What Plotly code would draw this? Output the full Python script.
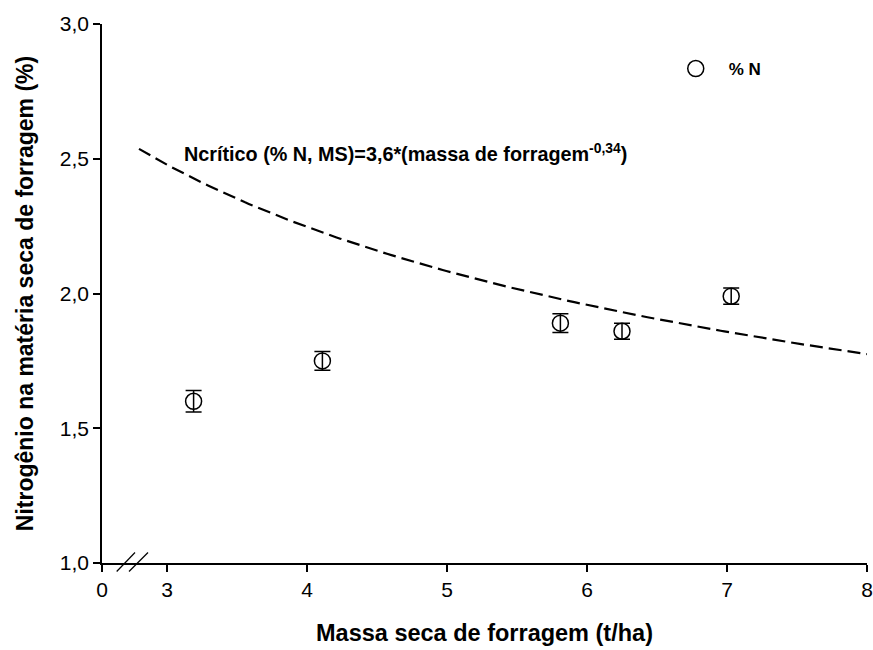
import numpy as np
import plotly.graph_objects as go

# Observed forage dry mass (t/ha) and N concentration (%) with standard errors
massa = [3.19, 4.11, 5.81, 6.25, 7.03]
n_pct = [1.60, 1.75, 1.89, 1.86, 1.99]
n_err = [0.04, 0.035, 0.035, 0.03, 0.03]

# Critical N dilution curve: N = 3.6 * MS^-0.34
coef_a = 3.6
coef_b = -0.34
curve_start, curve_end = 2.8, 8.0

# Broken x axis: the "0" tick sits at the left end of the visible range
x_left = 3 - 65 / 140
x_tickvals = [x_left, 3, 4, 5, 6, 7, 8]
x_ticktext = ["0", "3", "4", "5", "6", "7", "8"]
y_tickvals = [1.0, 1.5, 2.0, 2.5, 3.0]
y_ticktext = ["1,0", "1,5", "2,0", "2,5", "3,0"]

FONT = "Arial, Liberation Sans, sans-serif"

xs = np.linspace(curve_start, curve_end, 200)
ys = coef_a * xs ** coef_b

fig = go.Figure()
fig.add_trace(go.Scatter(
    x=xs, y=ys, mode="lines", showlegend=False, hoverinfo="skip",
    line=dict(color="black", width=2.2, dash="13px,6px"),
))
fig.add_trace(go.Scatter(
    x=massa, y=n_pct, mode="markers", name="<b>% N</b>",
    marker=dict(symbol="circle-open", size=16, color="black",
                line=dict(color="black", width=1.5)),
    error_y=dict(type="data", array=n_err, visible=True,
                 color="black", thickness=1.5, width=8),
))

fig.add_annotation(
    x=0.104, y=0.7625, xref="paper", yref="paper", xanchor="left", yanchor="middle",
    text="<b>Ncrítico (% N, MS)=3,6*(massa de forragem<sup>-0,34</sup>)</b>",
    showarrow=False, font=dict(family=FONT, size=19.8, color="black"),
)

# Axis-break marks near the origin
for x0, x1 in [(116.7, 135.0), (129.0, 148.0)]:
    fig.add_shape(
        type="line", xref="paper", yref="paper",
        x0=(x0 - 102) / 765, x1=(x1 - 102) / 765,
        y0=-8.5 / 539, y1=10.5 / 539,
        line=dict(color="black", width=1.2),
    )

fig.update_layout(
    width=873, height=650,
    margin=dict(l=102, r=6, t=24, b=87),
    paper_bgcolor="white", plot_bgcolor="white",
    font=dict(family=FONT, size=21, color="black"),
    legend=dict(x=0.733, y=0.9165, xanchor="left", yanchor="middle",
                itemwidth=56, bgcolor="rgba(0,0,0,0)",
                font=dict(size=17, family=FONT)),
    xaxis=dict(
        range=[x_left, 8], tickvals=x_tickvals, ticktext=x_ticktext,
        showgrid=False, zeroline=False, showline=True, linecolor="black",
        linewidth=1.5, ticks="outside", ticklen=7, tickwidth=1.5, tickcolor="black",
        automargin=False,
        title=dict(text="<b>Massa seca de forragem (t/ha)</b>",
                   font=dict(size=23.5, family=FONT), standoff=25),
    ),
    yaxis=dict(
        range=[1.0, 3.0], tickvals=y_tickvals, ticktext=y_ticktext,
        showgrid=False, zeroline=False, showline=True, linecolor="black",
        linewidth=1.5, ticks="outside", ticklen=7, tickwidth=1.5, tickcolor="black",
        automargin=False,
        title=dict(text="<b>Nitrogênio na matéria seca de forragem (%)</b>",
                   font=dict(size=23, family=FONT), standoff=20),
    ),
)

fig.write_html("out.html")
